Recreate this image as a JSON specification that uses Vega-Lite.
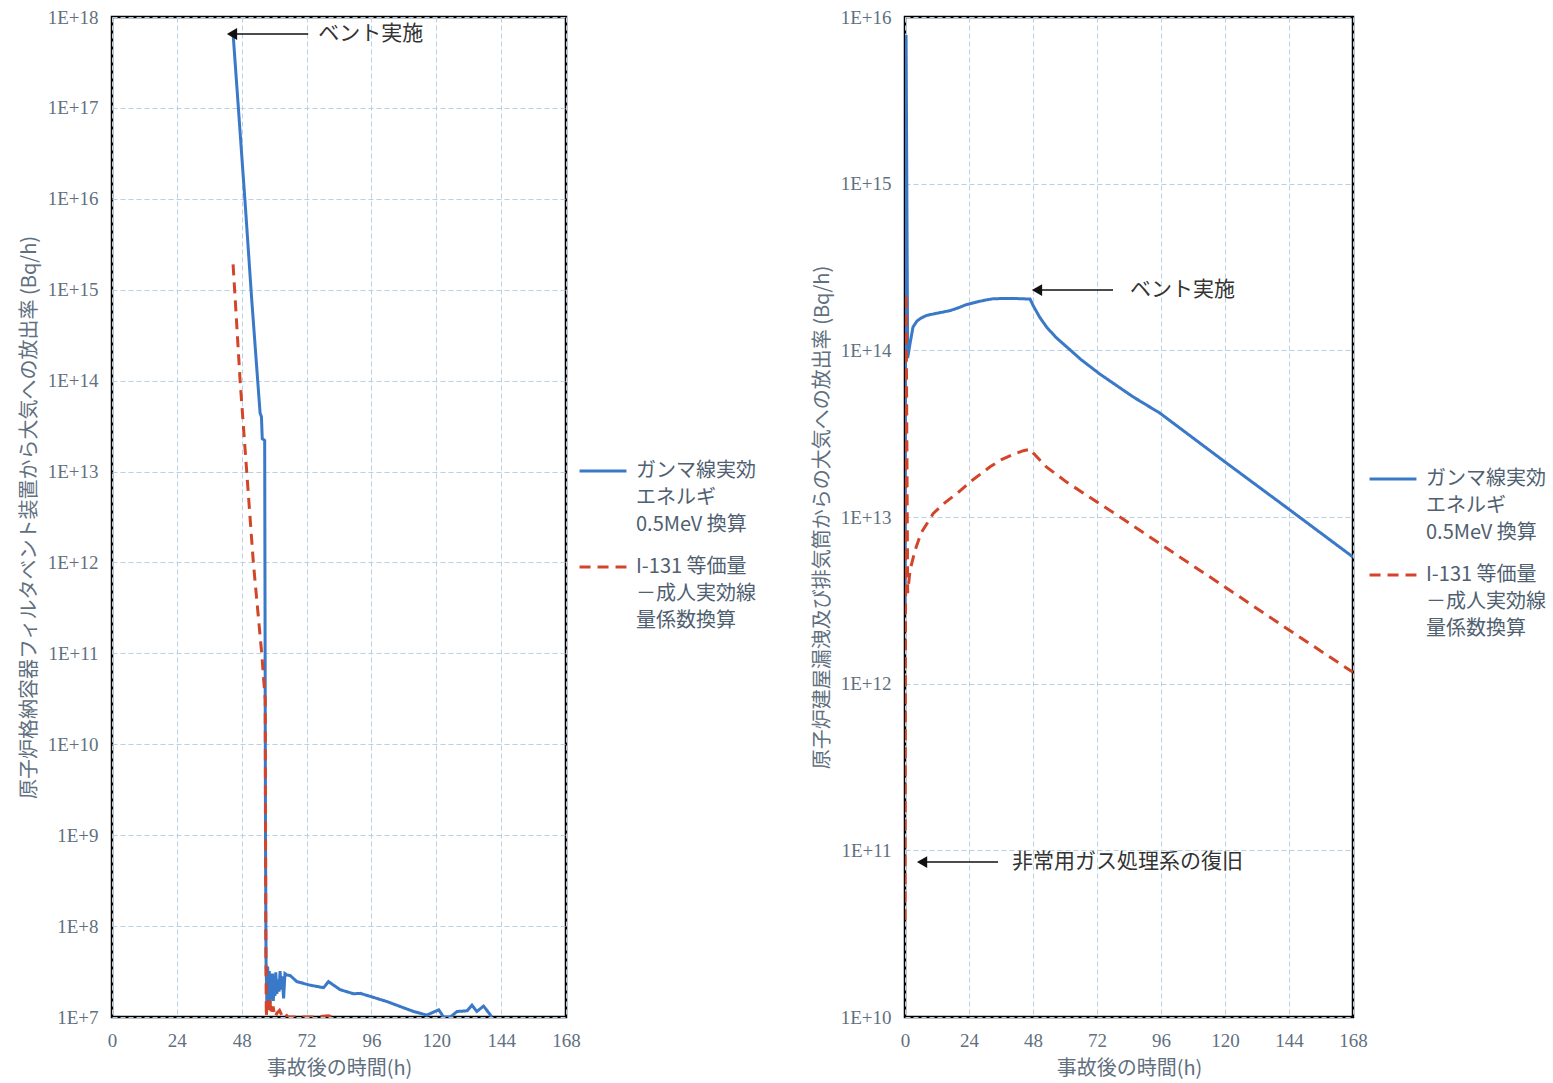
{
  "$schema": "https://vega.github.io/schema/vega-lite/v6.json",
  "background": "white",
  "padding": {"left": 17, "top": 6, "right": 2, "bottom": 5},
  "spacing": 52,
  "datasets": {
    "left": [
      {"h": 44.8, "v": 6.6e17, "s": "ガンマ線実効エネルギ0.5MeV換算"},
      {"h": 49.3, "v": 8.7e15, "s": "ガンマ線実効エネルギ0.5MeV換算"},
      {"h": 51.7, "v": 7.8e14, "s": "ガンマ線実効エネルギ0.5MeV換算"},
      {"h": 54.8, "v": 4.4e13, "s": "ガンマ線実効エネルギ0.5MeV換算"},
      {"h": 55.3, "v": 4.0e13, "s": "ガンマ線実効エネルギ0.5MeV換算"},
      {"h": 55.6, "v": 2.3e13, "s": "ガンマ線実効エネルギ0.5MeV換算"},
      {"h": 56.5, "v": 2.2e13, "s": "ガンマ線実効エネルギ0.5MeV換算"},
      {"h": 56.8, "v": 1.0e9, "s": "ガンマ線実効エネルギ0.5MeV換算"},
      {"h": 57.0, "v": 4.2e7, "s": "ガンマ線実効エネルギ0.5MeV換算"},
      {"h": 57.3, "v": 1.4e7, "s": "ガンマ線実効エネルギ0.5MeV換算"},
      {"h": 57.6, "v": 3.6e7, "s": "ガンマ線実効エネルギ0.5MeV換算"},
      {"h": 57.9, "v": 1.3e7, "s": "ガンマ線実効エネルギ0.5MeV換算"},
      {"h": 58.2, "v": 3.2e7, "s": "ガンマ線実効エネルギ0.5MeV換算"},
      {"h": 58.5, "v": 1.4e7, "s": "ガンマ線実効エネルギ0.5MeV換算"},
      {"h": 58.8, "v": 3.0e7, "s": "ガンマ線実効エネルギ0.5MeV換算"},
      {"h": 59.1, "v": 1.6e7, "s": "ガンマ線実効エネルギ0.5MeV換算"},
      {"h": 59.4, "v": 3.0e7, "s": "ガンマ線実効エネルギ0.5MeV換算"},
      {"h": 59.7, "v": 1.5e7, "s": "ガンマ線実効エネルギ0.5MeV換算"},
      {"h": 60.0, "v": 2.8e7, "s": "ガンマ線実効エネルギ0.5MeV換算"},
      {"h": 60.3, "v": 1.7e7, "s": "ガンマ線実効エネルギ0.5MeV換算"},
      {"h": 60.6, "v": 3.1e7, "s": "ガンマ線実効エネルギ0.5MeV換算"},
      {"h": 61.0, "v": 1.8e7, "s": "ガンマ線実効エネルギ0.5MeV換算"},
      {"h": 61.4, "v": 2.6e7, "s": "ガンマ線実効エネルギ0.5MeV換算"},
      {"h": 61.8, "v": 1.9e7, "s": "ガンマ線実効エネルギ0.5MeV換算"},
      {"h": 62.2, "v": 3.2e7, "s": "ガンマ線実効エネルギ0.5MeV換算"},
      {"h": 62.6, "v": 2.0e7, "s": "ガンマ線実効エネルギ0.5MeV換算"},
      {"h": 63.0, "v": 2.8e7, "s": "ガンマ線実効エネルギ0.5MeV換算"},
      {"h": 63.5, "v": 1.6e7, "s": "ガンマ線実効エネルギ0.5MeV換算"},
      {"h": 64.0, "v": 3.0e7, "s": "ガンマ線実効エネルギ0.5MeV換算"},
      {"h": 64.7, "v": 2.9e7, "s": "ガンマ線実効エネルギ0.5MeV換算"},
      {"h": 66.0, "v": 2.85e7, "s": "ガンマ線実効エネルギ0.5MeV換算"},
      {"h": 68.4, "v": 2.45e7, "s": "ガンマ線実効エネルギ0.5MeV換算"},
      {"h": 73.0, "v": 2.25e7, "s": "ガンマ線実効エネルギ0.5MeV換算"},
      {"h": 78.3, "v": 2.1e7, "s": "ガンマ線実効エネルギ0.5MeV換算"},
      {"h": 80.1, "v": 2.45e7, "s": "ガンマ線実効エネルギ0.5MeV換算"},
      {"h": 84.4, "v": 2.0e7, "s": "ガンマ線実効エネルギ0.5MeV換算"},
      {"h": 89.4, "v": 1.8e7, "s": "ガンマ線実効エネルギ0.5MeV換算"},
      {"h": 91.9, "v": 1.82e7, "s": "ガンマ線実効エネルギ0.5MeV換算"},
      {"h": 101.7, "v": 1.48e7, "s": "ガンマ線実効エネルギ0.5MeV換算"},
      {"h": 111.6, "v": 1.15e7, "s": "ガンマ線実効エネルギ0.5MeV換算"},
      {"h": 116.5, "v": 1.05e7, "s": "ガンマ線実効エネルギ0.5MeV換算"},
      {"h": 120.9, "v": 1.2e7, "s": "ガンマ線実効エネルギ0.5MeV換算"},
      {"h": 122.7, "v": 1.0e7, "s": "ガンマ線実効エネルギ0.5MeV換算"},
      {"h": 125.2, "v": 1.0e7, "s": "ガンマ線実効エネルギ0.5MeV換算"},
      {"h": 127.7, "v": 1.15e7, "s": "ガンマ線実効エネルギ0.5MeV換算"},
      {"h": 131.4, "v": 1.17e7, "s": "ガンマ線実効エネルギ0.5MeV換算"},
      {"h": 133.2, "v": 1.35e7, "s": "ガンマ線実効エネルギ0.5MeV換算"},
      {"h": 135.0, "v": 1.15e7, "s": "ガンマ線実効エネルギ0.5MeV換算"},
      {"h": 137.5, "v": 1.32e7, "s": "ガンマ線実効エネルギ0.5MeV換算"},
      {"h": 140.6, "v": 1.0e7, "s": "ガンマ線実効エネルギ0.5MeV換算"},
      {"h": 44.8, "v": 1.9e15, "s": "I-131等価量－成人実効線量係数換算"},
      {"h": 45.6, "v": 7.8e14, "s": "I-131等価量－成人実効線量係数換算"},
      {"h": 47.4, "v": 1.0e14, "s": "I-131等価量－成人実効線量係数換算"},
      {"h": 49.9, "v": 9.5e12, "s": "I-131等価量－成人実効線量係数換算"},
      {"h": 52.3, "v": 1.0e12, "s": "I-131等価量－成人実効線量係数換算"},
      {"h": 55.4, "v": 1.0e11, "s": "I-131等価量－成人実効線量係数換算"},
      {"h": 56.7, "v": 3.1e10, "s": "I-131等価量－成人実効線量係数換算"},
      {"h": 56.9, "v": 1.0e8, "s": "I-131等価量－成人実効線量係数換算"},
      {"h": 57.1, "v": 1.0e7, "s": "I-131等価量－成人実効線量係数換算"},
      {"h": 57.5, "v": 1.6e7, "s": "I-131等価量－成人実効線量係数換算"},
      {"h": 57.8, "v": 1.2e7, "s": "I-131等価量－成人実効線量係数換算"},
      {"h": 58.4, "v": 1.5e7, "s": "I-131等価量－成人実効線量係数換算"},
      {"h": 59.0, "v": 1.05e7, "s": "I-131等価量－成人実効線量係数換算"},
      {"h": 59.6, "v": 1.3e7, "s": "I-131等価量－成人実効線量係数換算"},
      {"h": 60.3, "v": 1.0e7, "s": "I-131等価量－成人実効線量係数換算"},
      {"h": 61.0, "v": 1.1e7, "s": "I-131等価量－成人実効線量係数換算"},
      {"h": 62.0, "v": 1.18e7, "s": "I-131等価量－成人実効線量係数換算"},
      {"h": 63.0, "v": 1.02e7, "s": "I-131等価量－成人実効線量係数換算"},
      {"h": 64.0, "v": 1.1e7, "s": "I-131等価量－成人実効線量係数換算"},
      {"h": 65.0, "v": 1.0e7, "s": "I-131等価量－成人実効線量係数換算"},
      {"h": 70.0, "v": 1.0e7, "s": "I-131等価量－成人実効線量係数換算"},
      {"h": 75.0, "v": 1.0e7, "s": "I-131等価量－成人実効線量係数換算"},
      {"h": 80.0, "v": 1.03e7, "s": "I-131等価量－成人実効線量係数換算"},
      {"h": 82.0, "v": 1.0e7, "s": "I-131等価量－成人実効線量係数換算"}
    ],
    "right": [
      {"h": 0.0, "v": 3.0e12, "s": "ガンマ線実効エネルギ0.5MeV換算"},
      {"h": 0.4, "v": 7.8e15, "s": "ガンマ線実効エネルギ0.5MeV換算"},
      {"h": 1.0, "v": 9.0e13, "s": "ガンマ線実効エネルギ0.5MeV換算"},
      {"h": 1.9, "v": 1.1e14, "s": "ガンマ線実効エネルギ0.5MeV換算"},
      {"h": 3.0, "v": 1.38e14, "s": "ガンマ線実効エネルギ0.5MeV換算"},
      {"h": 4.5, "v": 1.5e14, "s": "ガンマ線実効エネルギ0.5MeV換算"},
      {"h": 6.0, "v": 1.56e14, "s": "ガンマ線実効エネルギ0.5MeV換算"},
      {"h": 8.1, "v": 1.62e14, "s": "ガンマ線実効エネルギ0.5MeV換算"},
      {"h": 12.0, "v": 1.67e14, "s": "ガンマ線実効エネルギ0.5MeV換算"},
      {"h": 16.9, "v": 1.73e14, "s": "ガンマ線実効エネルギ0.5MeV換算"},
      {"h": 20.0, "v": 1.8e14, "s": "ガンマ線実効エネルギ0.5MeV換算"},
      {"h": 23.0, "v": 1.88e14, "s": "ガンマ線実効エネルギ0.5MeV換算"},
      {"h": 26.9, "v": 1.95e14, "s": "ガンマ線実効エネルギ0.5MeV換算"},
      {"h": 30.0, "v": 2.0e14, "s": "ガンマ線実効エネルギ0.5MeV換算"},
      {"h": 33.1, "v": 2.04e14, "s": "ガンマ線実効エネルギ0.5MeV換算"},
      {"h": 40.0, "v": 2.05e14, "s": "ガンマ線実効エネルギ0.5MeV換算"},
      {"h": 46.9, "v": 2.03e14, "s": "ガンマ線実効エネルギ0.5MeV換算"},
      {"h": 48.1, "v": 1.85e14, "s": "ガンマ線実効エネルギ0.5MeV換算"},
      {"h": 50.5, "v": 1.58e14, "s": "ガンマ線実効エネルギ0.5MeV換算"},
      {"h": 53.1, "v": 1.38e14, "s": "ガンマ線実効エネルギ0.5MeV換算"},
      {"h": 56.5, "v": 1.2e14, "s": "ガンマ線実効エネルギ0.5MeV換算"},
      {"h": 60.6, "v": 1.05e14, "s": "ガンマ線実効エネルギ0.5MeV換算"},
      {"h": 66.0, "v": 8.8e13, "s": "ガンマ線実効エネルギ0.5MeV換算"},
      {"h": 73.1, "v": 7.2e13, "s": "ガンマ線実効エネルギ0.5MeV換算"},
      {"h": 85.6, "v": 5.25e13, "s": "ガンマ線実効エネルギ0.5MeV換算"},
      {"h": 95.6, "v": 4.2e13, "s": "ガンマ線実効エネルギ0.5MeV換算"},
      {"h": 120.0, "v": 2.14e13, "s": "ガンマ線実効エネルギ0.5MeV換算"},
      {"h": 144.4, "v": 1.1e13, "s": "ガンマ線実効エネルギ0.5MeV換算"},
      {"h": 168.0, "v": 5.75e12, "s": "ガンマ線実効エネルギ0.5MeV換算"},
      {"h": 0.0, "v": 3.8e10, "s": "I-131等価量－成人実効線量係数換算"},
      {"h": 0.4, "v": 2.2e14, "s": "I-131等価量－成人実効線量係数換算"},
      {"h": 1.0, "v": 3.5e12, "s": "I-131等価量－成人実効線量係数換算"},
      {"h": 1.9, "v": 4.8e12, "s": "I-131等価量－成人実効線量係数換算"},
      {"h": 3.75, "v": 6.3e12, "s": "I-131等価量－成人実効線量係数換算"},
      {"h": 6.0, "v": 8.0e12, "s": "I-131等価量－成人実効線量係数換算"},
      {"h": 10.6, "v": 1.05e13, "s": "I-131等価量－成人実効線量係数換算"},
      {"h": 15.0, "v": 1.22e13, "s": "I-131等価量－成人実効線量係数換算"},
      {"h": 19.4, "v": 1.38e13, "s": "I-131等価量－成人実効線量係数換算"},
      {"h": 25.0, "v": 1.65e13, "s": "I-131等価量－成人実効線量係数換算"},
      {"h": 31.9, "v": 2.0e13, "s": "I-131等価量－成人実効線量係数換算"},
      {"h": 36.0, "v": 2.2e13, "s": "I-131等価量－成人実効線量係数換算"},
      {"h": 40.0, "v": 2.35e13, "s": "I-131等価量－成人実効線量係数換算"},
      {"h": 44.4, "v": 2.5e13, "s": "I-131等価量－成人実効線量係数換算"},
      {"h": 47.2, "v": 2.55e13, "s": "I-131等価量－成人実効線量係数換算"},
      {"h": 48.1, "v": 2.42e13, "s": "I-131等価量－成人実効線量係数換算"},
      {"h": 53.0, "v": 2.0e13, "s": "I-131等価量－成人実効線量係数換算"},
      {"h": 60.6, "v": 1.62e13, "s": "I-131等価量－成人実効線量係数換算"},
      {"h": 80.6, "v": 1.0e13, "s": "I-131等価量－成人実効線量係数換算"},
      {"h": 100.0, "v": 6.2e12, "s": "I-131等価量－成人実効線量係数換算"},
      {"h": 120.0, "v": 3.8e12, "s": "I-131等価量－成人実効線量係数換算"},
      {"h": 144.0, "v": 2.1e12, "s": "I-131等価量－成人実効線量係数換算"},
      {"h": 168.0, "v": 1.17e12, "s": "I-131等価量－成人実効線量係数換算"}
    ],
    "leftNotes": [
      {"tip": 44.4, "tail": 72.6, "txt": 76.3, "v": 6.5e17, "label": "ベント実施"}
    ],
    "rightNotes": [
      {"tip": 49.5, "tail": 78.0, "txt": 84.4, "v": 2.3e14, "label": "ベント実施"},
      {"tip": 6.4, "tail": 34.9, "txt": 40.1, "v": 8.5e10, "label": "非常用ガス処理系の復旧"}
    ]
  },
  "resolve": {"scale": {"color": "independent", "strokeDash": "independent", "x": "independent", "y": "independent"}, "legend": {"color": "independent", "strokeDash": "independent"}},
  "hconcat": [
    {
      "width": 454,
      "height": 1000,
      "layer": [
        {
          "data": {"name": "left"},
          "mark": {"type": "line", "clip": true, "strokeWidth": 3},
          "encoding": {
            "x": {"field": "h", "type": "quantitative", "scale": {"domain": [0, 168]}, "axis": {"values": [0, 24, 48, 72, 96, 120, 144, 168], "title": "事故後の時間(h)"}},
            "y": {"field": "v", "type": "quantitative", "scale": {"type": "log", "domain": [1e7, 1e18]}, "axis": {"values": [1e7, 1e8, 1e9, 1e10, 1e11, 1e12, 1e13, 1e14, 1e15, 1e16, 1e17, 1e18], "labelExpr": "'1E+' + round(log(datum.value)/LN10)", "title": "原子炉格納容器フィルタベント装置から大気への放出率 (Bq/h)"}},
            "color": {"field": "s", "type": "nominal", "scale": {"domain": ["ガンマ線実効エネルギ0.5MeV換算", "I-131等価量－成人実効線量係数換算"], "range": ["#3a78c8", "#d2452a"]}, "legend": {"orient": "none", "legendX": 466, "legendY": 429, "labelExpr": "datum.value == 'ガンマ線実効エネルギ0.5MeV換算' ? ['ガンマ線実効', 'エネルギ', '0.5MeV 換算'] : ['I-131 等価量', '－成人実効線', '量係数換算']"}},
            "strokeDash": {"field": "s", "type": "nominal", "scale": {"domain": ["ガンマ線実効エネルギ0.5MeV換算", "I-131等価量－成人実効線量係数換算"], "range": [[1, 0], [11, 7]]}, "legend": {"orient": "none", "legendX": 466, "legendY": 429, "labelExpr": "datum.value == 'ガンマ線実効エネルギ0.5MeV換算' ? ['ガンマ線実効', 'エネルギ', '0.5MeV 換算'] : ['I-131 等価量', '－成人実効線', '量係数換算']"}}
          }
        },
        {
          "data": {"name": "leftNotes"},
          "mark": {"type": "rule", "color": "#111", "strokeWidth": 1.5},
          "encoding": {
            "x": {"field": "tip", "type": "quantitative", "scale": {"domain": [0, 168]}},
            "x2": {"field": "tail"},
            "y": {"field": "v", "type": "quantitative", "scale": {"type": "log", "domain": [1e7, 1e18]}}
          }
        },
        {
          "data": {"name": "leftNotes"},
          "mark": {"type": "point", "shape": "triangle-left", "filled": true, "color": "#111", "size": 140, "opacity": 1},
          "encoding": {
            "x": {"field": "tip", "type": "quantitative", "scale": {"domain": [0, 168]}},
            "y": {"field": "v", "type": "quantitative", "scale": {"type": "log", "domain": [1e7, 1e18]}}
          }
        },
        {
          "data": {"name": "leftNotes"},
          "mark": {"type": "text", "align": "left", "baseline": "middle", "font": "Noto Sans CJK JP", "fontSize": 21, "color": "#333"},
          "encoding": {
            "x": {"field": "txt", "type": "quantitative", "scale": {"domain": [0, 168]}},
            "y": {"field": "v", "type": "quantitative", "scale": {"type": "log", "domain": [1e7, 1e18]}},
            "text": {"field": "label"}
          }
        }
      ]
    },
    {
      "width": 448,
      "height": 1000,
      "layer": [
        {
          "data": {"name": "right"},
          "mark": {"type": "line", "clip": true, "strokeWidth": 3},
          "encoding": {
            "x": {"field": "h", "type": "quantitative", "scale": {"domain": [0, 168]}, "axis": {"values": [0, 24, 48, 72, 96, 120, 144, 168], "title": "事故後の時間(h)"}},
            "y": {"field": "v", "type": "quantitative", "scale": {"type": "log", "domain": [1e10, 1e16]}, "axis": {"values": [1e10, 1e11, 1e12, 1e13, 1e14, 1e15, 1e16], "labelExpr": "'1E+' + round(log(datum.value)/LN10)", "title": "原子炉建屋漏洩及び排気筒からの大気への放出率 (Bq/h)"}},
            "color": {"field": "s", "type": "nominal", "scale": {"domain": ["ガンマ線実効エネルギ0.5MeV換算", "I-131等価量－成人実効線量係数換算"], "range": ["#3a78c8", "#d2452a"]}, "legend": {"orient": "none", "legendX": 463, "legendY": 437, "labelExpr": "datum.value == 'ガンマ線実効エネルギ0.5MeV換算' ? ['ガンマ線実効', 'エネルギ', '0.5MeV 換算'] : ['I-131 等価量', '－成人実効線', '量係数換算']"}},
            "strokeDash": {"field": "s", "type": "nominal", "scale": {"domain": ["ガンマ線実効エネルギ0.5MeV換算", "I-131等価量－成人実効線量係数換算"], "range": [[1, 0], [11, 7]]}, "legend": {"orient": "none", "legendX": 463, "legendY": 437, "labelExpr": "datum.value == 'ガンマ線実効エネルギ0.5MeV換算' ? ['ガンマ線実効', 'エネルギ', '0.5MeV 換算'] : ['I-131 等価量', '－成人実効線', '量係数換算']"}}
          }
        },
        {
          "data": {"name": "rightNotes"},
          "mark": {"type": "rule", "color": "#111", "strokeWidth": 1.5},
          "encoding": {
            "x": {"field": "tip", "type": "quantitative", "scale": {"domain": [0, 168]}},
            "x2": {"field": "tail"},
            "y": {"field": "v", "type": "quantitative", "scale": {"type": "log", "domain": [1e10, 1e16]}}
          }
        },
        {
          "data": {"name": "rightNotes"},
          "mark": {"type": "point", "shape": "triangle-left", "filled": true, "color": "#111", "size": 140, "opacity": 1},
          "encoding": {
            "x": {"field": "tip", "type": "quantitative", "scale": {"domain": [0, 168]}},
            "y": {"field": "v", "type": "quantitative", "scale": {"type": "log", "domain": [1e10, 1e16]}}
          }
        },
        {
          "data": {"name": "rightNotes"},
          "mark": {"type": "text", "align": "left", "baseline": "middle", "font": "Noto Sans CJK JP", "fontSize": 21, "color": "#333"},
          "encoding": {
            "x": {"field": "txt", "type": "quantitative", "scale": {"domain": [0, 168]}},
            "y": {"field": "v", "type": "quantitative", "scale": {"type": "log", "domain": [1e10, 1e16]}},
            "text": {"field": "label"}
          }
        }
      ]
    }
  ],
  "config": {
    "view": {"stroke": "#000", "strokeWidth": 2.5},
    "axis": {
      "grid": true,
      "gridColor": "#b9d0e2",
      "gridDash": [5, 3],
      "gridWidth": 1,
      "domain": false,
      "ticks": false,
      "labelFlush": false,
      "labelFont": "Liberation Serif",
      "labelFontSize": 19,
      "labelColor": "#5f7080",
      "labelPadding": 14,
      "titleFont": "Noto Sans CJK JP",
      "titleFontSize": 20,
      "titleFontWeight": "normal",
      "titleColor": "#5f7080",
      "titlePadding": 8
    },
    "legend": {
      "title": null,
      "labelFont": "Noto Sans CJK JP",
      "labelFontSize": 20,
      "labelColor": "#4f6070",
      "labelLimit": 300,
      "symbolType": "stroke",
      "symbolSize": 2200,
      "symbolStrokeWidth": 3,
      "labelOffset": 8,
      "rowPadding": 7,
      "labelBaseline": "middle"
    },
    "style": {"guide-label": {"lineHeight": 27}}
  }
}
